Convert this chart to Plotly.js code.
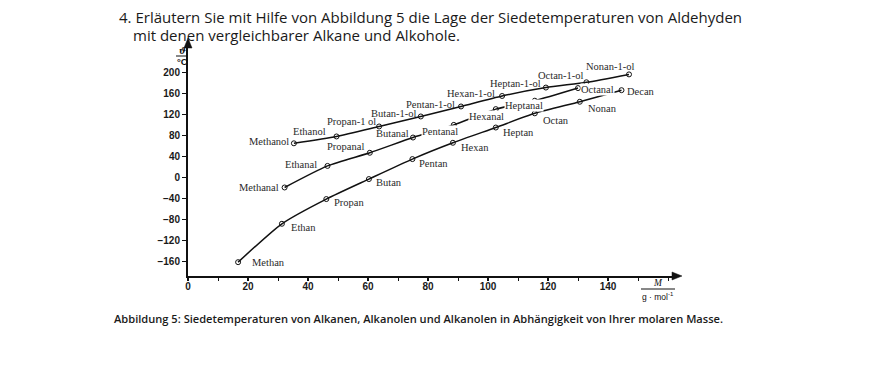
<!DOCTYPE html>
<html><head><meta charset="utf-8">
<script src="https://cdn.plot.ly/plotly-3.0.1.min.js"></script>
<style>html,body{margin:0;padding:0;background:#fff}#chart{width:880px;height:388px}</style>
</head><body><div id="chart"></div>
<script>
// ---- data ----
const alkaneNames = ["Methan","Ethan","Propan","Butan","Pentan","Hexan","Heptan","Octan","Nonan","Decan"];
const alkaneM     = [16.7, 31.3, 46.1, 60.3, 74.8, 88.3, 102.6, 115.6, 130.6, 144.5];
const alkaneT     = [-161, -88, -41, -3, 35, 66, 95, 122, 144, 166];

const alkanalNames = ["Methanal","Ethanal","Propanal","Butanal","Pentanal","Hexanal","Heptanal","Octanal"];
const alkanalM     = [32.2, 46.5, 60.6, 75.0, 88.6, 102.6, 115.6, 130.0];
const alkanalT     = [-19, 22, 47, 76, 100, 130, 146, 170];

const alkanolNames = ["Methanol","Ethanol","Propan-1 ol","Butan-1-ol","Pentan-1-ol","Hexan-1-ol","Heptan-1-ol","Octan-1-ol","Nonan-1-ol"];
const alkanolM     = [35.3, 49.5, 63.7, 77.6, 91.0, 104.7, 119.3, 132.8, 147.0];
const alkanolT     = [65, 78, 97, 116, 135, 155, 171, 181, 196];

const xTickVals = [0, 20, 40, 60, 80, 100, 120, 140];
const yTickVals = [-160, -120, -80, -40, 0, 40, 80, 120, 160, 200];

// ---- label placement (styling, pixels: [xanchor, xshift, yshift, whiteBackground]) ----
const alkanePlace = [["left",13,0],["left",8,-4],["left",7,-3],["left",6,-3],["left",6,-4],["left",7,-5],["left",6,-5],["left",7,-7],["left",7,-7],["left",4,-1]];
const alkanalPlace = [["right",-5,0],["right",-10,1],["right",-5,6],["right",-3,4],["center",-14,-7,true],["center",-9,-7,true],["center",-11,-5,true],["center",19,-1,true]];
const alkanolPlace = [["right",-4,2],["right",-10,5],["right",-2,5],["right",-3,3],["right",-5,2],["right",-6,2],["right",-4,4],["right",-1,7],["center",-19,8]];

// ---- geometry ----
const L = 188, W = 489, T = 45, H = 231;
const px2x = p => (p - L) / W;
const py2y = p => (T + H - p) / H;

function series(m, t) {
  return {
    x: m, y: t, type: 'scatter', mode: 'lines+markers',
    line: {color: '#111', width: 1.5, shape: 'spline', smoothing: 0.6},
    marker: {symbol: 'circle-open', size: 5, color: '#111', line: {width: 1}},
    hoverinfo: 'skip', showlegend: false
  };
}

const labelFont = {family: 'Liberation Serif, serif', size: 10.5, color: '#2a2a2a'};
const annotations = [];
function addLabels(names, m, t, place) {
  names.forEach((n, i) => {
    const p = place[i];
    annotations.push({
      x: m[i], y: t[i], xref: 'x', yref: 'y', text: n, showarrow: false,
      xanchor: p[0], yanchor: 'middle', xshift: p[1], yshift: p[2],
      font: labelFont, bgcolor: p[3] ? '#ffffff' : 'rgba(0,0,0,0)', borderpad: 0
    });
  });
}
addLabels(alkaneNames, alkaneM, alkaneT, alkanePlace);
addLabels(alkanalNames, alkanalM, alkanalT, alkanalPlace);
addLabels(alkanolNames, alkanolM, alkanolT, alkanolPlace);

const titleFont = {family: 'Open Sans, sans-serif', size: 15, color: '#1a1a1a'};
annotations.push(
  {xref:'paper', yref:'paper', x: px2x(117), y: py2y(17.5), xanchor:'left', yanchor:'middle', showarrow:false,
   text:'4. Erläutern Sie mit Hilfe von Abbildung 5 die Lage der Siedetemperaturen von Aldehyden', font: titleFont},
  {xref:'paper', yref:'paper', x: px2x(131), y: py2y(35), xanchor:'left', yanchor:'middle', showarrow:false,
   text:'mit denen vergleichbarer Alkane und Alkohole.', font: titleFont},
  {xref:'paper', yref:'paper', x: px2x(112), y: py2y(318), xanchor:'left', yanchor:'middle', showarrow:false,
   text:'Abbildung 5: Siedetemperaturen von Alkanen, Alkanolen und Alkanolen in Abhängigkeit von Ihrer molaren Masse.',
   font: {family: 'Open Sans, sans-serif', size: 11.1, color: '#1a1a1a', weight: 600}},
  // axis titles as fractions
  {xref:'paper', yref:'paper', x: px2x(182), y: py2y(50.5), xanchor:'center', yanchor:'middle', showarrow:false,
   text:'<b><i>ϑ</i></b>', font: {family:'DejaVu Serif, serif', size: 8.5, color:'#111'}},
  {xref:'paper', yref:'paper', x: px2x(182), y: py2y(62), xanchor:'center', yanchor:'middle', showarrow:false,
   text:'<b>°C</b>', font: {family:'Liberation Sans, sans-serif', size: 9.5, color:'#111'}},
  {xref:'paper', yref:'paper', x: px2x(658), y: py2y(283), xanchor:'center', yanchor:'middle', showarrow:false,
   text:'<i>M</i>', font: {family:'Liberation Serif, serif', size: 9.5, color:'#111'}},
  {xref:'paper', yref:'paper', x: px2x(658), y: py2y(296), xanchor:'center', yanchor:'middle', showarrow:false,
   text:'g · mol<sup>-1</sup>', font: {family:'Liberation Sans, sans-serif', size: 8.5, color:'#111'}}
);

// arrowheads and fraction bars drawn as paper-space shapes
const P = (x, y) => px2x(x).toFixed(4) + ',' + py2y(y).toFixed(4);
const shapes = [
  {type:'line', xref:'paper', yref:'paper', x0: px2x(176), x1: px2x(188), y0: py2y(56), y1: py2y(56), line:{color:'#111', width:1}},
  {type:'line', xref:'paper', yref:'paper', x0: px2x(641), x1: px2x(675), y0: py2y(289), y1: py2y(289), line:{color:'#111', width:1}},
  {type:'line', xref:'paper', yref:'paper', x0: 0, x1: 0, y0: 1, y1: py2y(42), line:{color:'#111', width:2}},
  {type:'path', xref:'paper', yref:'paper', path: 'M' + P(682, 276) + 'L' + P(672, 272) + 'L' + P(672, 280) + 'Z',
   fillcolor:'#111', line:{color:'#111', width:0.5}},
  {type:'path', xref:'paper', yref:'paper', path: 'M' + P(188, 38) + 'L' + P(184, 48) + 'L' + P(192, 48) + 'Z',
   fillcolor:'#111', line:{color:'#111', width:0.5}}
];

const tickFont = {family: 'Liberation Sans, sans-serif', size: 10, color: '#1a1a1a', weight: 700};

const layout = {
  width: 880, height: 388,
  margin: {l: L, r: 880 - L - W, t: T, b: 388 - T - H, pad: 0},
  paper_bgcolor: '#ffffff', plot_bgcolor: '#ffffff',
  xaxis: {
    range: [0, 163], showline: true, linecolor: '#111', linewidth: 2,
    showgrid: false, zeroline: false,
    tickmode: 'array', tickvals: xTickVals, ticktext: xTickVals.map(String),
    ticks: 'outside', ticklen: 3, tickwidth: 1.2, tickcolor: '#111',
    ticklabelstandoff: -3,
    minor: {dtick: 10, tick0: 0, ticks: 'outside', ticklen: 3, tickwidth: 1, tickcolor: '#111', showgrid: false},
    tickfont: tickFont
  },
  yaxis: {
    range: [-187.3, 251.9], showline: true, linecolor: '#111', linewidth: 2,
    showgrid: false, zeroline: false,
    tickmode: 'array', tickvals: yTickVals, ticktext: yTickVals.map(v => v < 0 ? '−' + Math.abs(v) : String(v)),
    ticks: 'outside', ticklen: 4, tickwidth: 1.2, tickcolor: '#111',
    tickfont: tickFont
  },
  annotations: annotations,
  shapes: shapes
};

Plotly.newPlot('chart', [series(alkaneM, alkaneT), series(alkanalM, alkanalT), series(alkanolM, alkanolT)], layout,
  {staticPlot: true, displayModeBar: false});
</script>
</body></html>
